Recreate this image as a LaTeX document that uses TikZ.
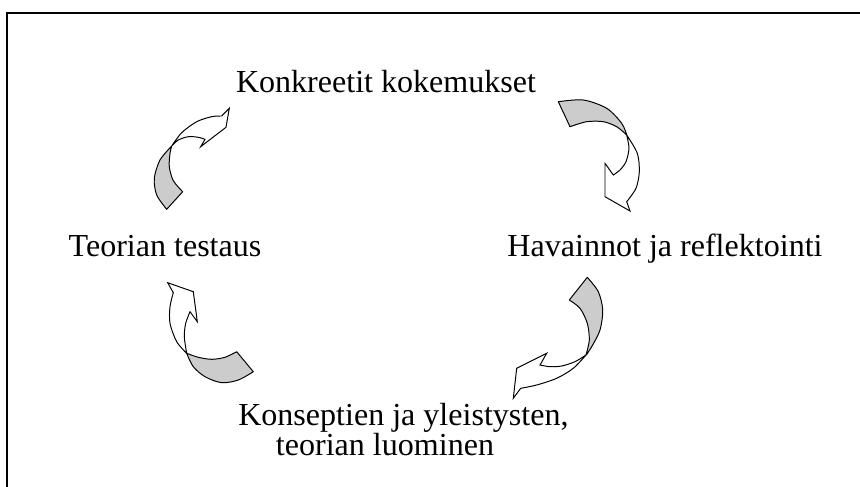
\documentclass[tikz,border=0pt]{standalone}
\usepackage{fontspec}
\setmainfont{Liberation Serif}
\usepackage{tikz}

\tikzset{
  tailpart/.style={draw, fill=gray!40, line width=0.7pt, line join=round},
  headpart/.style={draw, fill=white, line width=0.7pt, line join=miter},
  phase/.style={font=\fontsize{22.8}{21.3}\selectfont, inner sep=0pt}
}

\begin{document}
\begin{tikzpicture}[x=0.25mm, y=-0.25mm]
\useasboundingbox (0,0) rectangle (860,487);
\draw[line width=1pt] (7,487) -- (7,13) -- (860,13);

\node[phase, anchor=base] (konkreetit) at (386,93) {Konkreetit kokemukset};
\node[phase, anchor=base] (havainnot) at (665,256) {Havainnot ja reflektointi};
\node[phase, anchor=base] (testaus) at (165,256) {Teorian testaus};
\node[phase, anchor=base west] (konseptit) at (238,425) {Konseptien ja yleistysten,};
\node[phase, anchor=base] (luominen) at (385,455) {teorian luominen};

% top left
\path[tailpart] (166.7,209.3) -- (182.7,191.7)
  -- plot[smooth] coordinates {(182.7,191.7) (173.3,180.7) (169.3,166.7) (170,153.3) (171.7,146)}
  -- plot[smooth] coordinates {(171.7,146) (160,160) (154.3,178.3) (156.7,195) (166.7,209.3)} -- cycle;
\path[headpart] (171.7,146)
  -- plot[smooth] coordinates {(171.7,146) (181.7,132.7) (196.7,121.7) (211.7,116.7) (221.7,116)}
  -- (229.3,108.3) -- (226,127.3) -- (200.7,146.7) -- (205,139.3)
  -- plot[smooth] coordinates {(205,139.3) (198.3,137.3) (188.3,136.7) (178.3,140) (171.7,146)} -- cycle;

% top right
\path[tailpart] (558.3,101.7) -- (570,126.7)
  -- plot[smooth] coordinates {(570,126.7) (586.7,121.7) (603.3,121.7) (616.7,126.7) (626.7,135)}
  -- plot[smooth] coordinates {(626.7,135) (621.7,123.3) (606.7,108.3) (583.3,100) (558.3,101.7)} -- cycle;
\path[headpart] (626.7,135)
  -- plot[smooth] coordinates {(626.7,135) (629,148.3) (626,161.7) (620,170) (613.3,175)}
  -- (605,163.3) -- (605,196.7) -- (630,211) -- (626.7,201.7)
  -- plot[smooth] coordinates {(626.7,201.7) (636,188.3) (639.3,171.7) (637.3,153.3) (626.7,135)} -- cycle;

% bottom right
\path[tailpart] (587.3,277.3) -- (569.3,300)
  -- plot[smooth] coordinates {(569.3,300) (580,308.3) (587.3,323.3) (589.3,340) (586,355)}
  -- plot[smooth] coordinates {(586,355) (591.7,346.7) (600,330) (602.7,310) (598.3,291.7) (587.3,277.3)} -- cycle;
\path[headpart] (586,355)
  -- plot[smooth] coordinates {(586,355) (575,361.7) (561.7,366) (550,366.7) (540,365)}
  -- (546.7,353.3) -- (516.7,368.3) -- (513.3,398.3) -- (520.7,388.3)
  -- plot[smooth] coordinates {(520.7,388.3) (536.7,385) (556.7,378.3) (573.3,368.3) (586,355)} -- cycle;

% bottom left
\path[tailpart] (253.3,371.7) -- (236.7,351.7)
  -- plot[smooth] coordinates {(236.7,351.7) (225,357.3) (211.7,359.3) (198.3,357.3) (186.7,353.3)}
  -- plot[smooth] coordinates {(186.7,353.3) (193.3,366.7) (205,376.7) (221.7,382.7) (238.3,380) (253.3,371.7)} -- cycle;
\path[headpart] (186.7,353.3)
  -- plot[smooth] coordinates {(186.7,353.3) (176.7,341.7) (170,323.3) (170,306.7) (173.3,292.7)}
  -- (167.7,282.7) -- (193.3,291.7) -- (197.3,321.7) -- (190,311.7)
  -- plot[smooth] coordinates {(190,311.7) (185.7,323.3) (184.3,336.7) (186.7,353.3)} -- cycle;
\end{tikzpicture}
\end{document}
